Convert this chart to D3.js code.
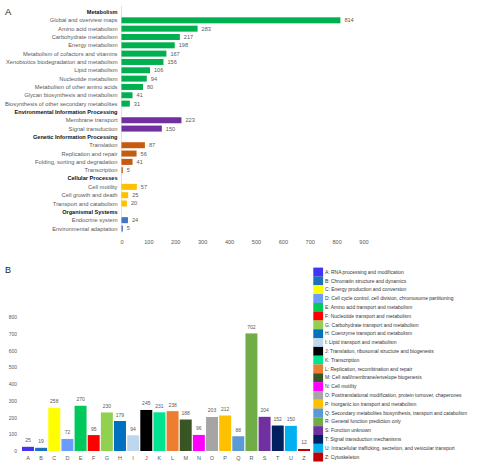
<!DOCTYPE html>
<html>
<head>
<meta charset="utf-8">
<script src="https://cdn.jsdelivr.net/npm/d3@7"></script>
<style>
  html, body { margin: 0; padding: 0; background: #fff; }
  svg { display: block; font-family: "Liberation Sans", Arial, sans-serif; }
</style>
</head>
<body>
<svg id="chart" width="492" height="468"></svg>
<script>
// ---------- Panel A data (KEGG) ----------
const keggGroups = ["Metabolism", "Environmental Information Processing", "Genetic Information Processing", "Cellular Processes", "Organismal Systems"];
const keggGroupColors = ["#00b050", "#7030a0", "#c55a11", "#ffc000", "#4472c4"];
const keggPathways = [
  "Global and overview maps", "Amino acid metabolism", "Carbohydrate metabolism", "Energy metabolism",
  "Metabolism of cofactors and vitamins", "Xenobiotics biodegradation and metabolism", "Lipid metabolism",
  "Nucleotide metabolism", "Metabolism of other amino acids", "Glycan biosynthesis and metabolism",
  "Biosynthesis of other secondary metabolites",
  "Membrane transport", "Signal transduction",
  "Translation", "Replication and repair", "Folding, sorting and degradation", "Transcription",
  "Cell motility", "Cell growth and death", "Transport and catabolism",
  "Endocrine system", "Environmental adaptation"
];
const keggValues = [814, 283, 217, 198, 167, 156, 106, 94, 80, 41, 31, 223, 150, 87, 56, 41, 5, 57, 25, 20, 24, 5];
const keggPathwayGroup = [0,0,0,0,0,0,0,0,0,0,0, 1,1, 2,2,2,2, 3,3,3, 4,4];
const keggTicks = [0, 100, 200, 300, 400, 500, 600, 700, 800, 900];

// ---------- Panel B data (COG) ----------
const cogLetters = ["A","B","C","D","E","F","G","H","I","J","K","L","M","N","O","P","Q","R","S","T","U","Z"];
const cogValues = [25, 19, 258, 72, 270, 95, 230, 179, 94, 245, 231, 238, 188, 96, 203, 212, 88, 702, 204, 152, 150, 12];
const cogColors = ["#4433f5","#1f6fc0","#ffff00","#6b9bff","#00c85a","#ff0000","#92d050","#0070c0","#bdd7ee","#000000",
                   "#00e391","#ed7d31","#375623","#ff00ff","#a5a5a5","#ffc000","#5b9bd5","#70ad47","#7030a0","#002060","#00b0f0","#c00000"];
const cogDescriptions = [
  "A: RNA processing and modification",
  "B: Chromatin structure and dynamics",
  "C: Energy production and conversion",
  "D: Cell cycle control, cell division, chromosome partitioning",
  "E: Amino acid transport and metabolism",
  "F: Nucleotide transport and metabolism",
  "G: Carbohydrate transport and metabolism",
  "H: Coenzyme transport and metabolism",
  "I: Lipid transport and metabolism",
  "J: Translation, ribosomal structure and biogenesis",
  "K: Transcription",
  "L: Replication, recombination and repair",
  "M: Cell wall/membrane/envelope biogenesis",
  "N: Cell motility",
  "O: Posttranslational modification, protein turnover, chaperones",
  "P: Inorganic ion transport and metabolism",
  "Q: Secondary metabolites biosynthesis, transport and catabolism",
  "R: General function prediction only",
  "S: Function unknown",
  "T: Signal transduction mechanisms",
  "U: Intracellular trafficking, secretion, and vesicular transport",
  "Z: Cytoskeleton"
];
const cogTicks = [0, 100, 200, 300, 400, 500, 600, 700, 800];

const svg = d3.select("#chart");
const gray = "#595959";

// ================= Panel A =================
const rows = [];
keggGroups.forEach((g, gi) => {
  rows.push({ key: "h" + gi, label: g, header: true, group: gi });
  keggPathways.forEach((p, i) => {
    if (keggPathwayGroup[i] === gi) rows.push({ key: "p" + i, label: p, header: false, group: gi, value: keggValues[i] });
  });
});

const yA = d3.scalePoint().domain(rows.map(r => r.key)).range([12, 228.5]);
const xA = d3.scaleLinear().domain([0, 900]).range([121.5, 363.5]);
const barH = 6;

svg.append("text").attr("x", 5).attr("y", 14.5).attr("font-size", 9.5).attr("fill", "#222").text("A");

const gA = svg.append("g");
gA.append("line").attr("x1", xA(0)).attr("x2", xA(0)).attr("y1", 6).attr("y2", 233)
  .attr("stroke", "#d9d9d9").attr("stroke-width", 0.8);

gA.selectAll("text.lab").data(rows).join("text")
  .attr("class", "lab")
  .attr("x", 117.5)
  .attr("y", d => yA(d.key))
  .attr("dy", "0.35em")
  .attr("text-anchor", "end")
  .attr("font-size", d => d.header ? 5.6 : 5.75)
  .attr("font-weight", d => d.header ? "bold" : "normal")
  .attr("fill", d => d.header ? "#111" : gray)
  .text(d => d.label);

const dataRows = rows.filter(r => !r.header);
gA.selectAll("rect.bar").data(dataRows).join("rect")
  .attr("class", "bar")
  .attr("x", xA(0))
  .attr("y", d => yA(d.key) - barH / 2)
  .attr("width", d => xA(d.value) - xA(0))
  .attr("height", barH)
  .attr("fill", d => keggGroupColors[d.group]);

gA.selectAll("text.val").data(dataRows).join("text")
  .attr("class", "val")
  .attr("x", d => xA(d.value) + 4)
  .attr("y", d => yA(d.key))
  .attr("dy", "0.35em")
  .attr("font-size", 5.6)
  .attr("fill", gray)
  .text(d => d.value);

const axA = gA.append("g").attr("transform", "translate(0,240)")
  .call(d3.axisBottom(xA).tickValues(keggTicks).tickSize(0).tickPadding(0));
axA.select(".domain").remove();
axA.selectAll("text").attr("font-size", 5.6).attr("fill", gray).attr("font-family", "Liberation Sans, Arial, sans-serif");

// ================= Panel B =================
svg.append("text").attr("x", 5).attr("y", 273).attr("font-size", 9).attr("fill", "#222").text("B");

const xB = d3.scaleBand().domain(cogLetters).range([21.4, 310.6]).paddingInner(0.09).paddingOuter(0.045);
const yB = d3.scaleLinear().domain([0, 800]).range([451, 317]);
const gB = svg.append("g");

const axBy = gB.append("g").attr("transform", "translate(17,0)")
  .call(d3.axisLeft(yB).tickValues(cogTicks).tickSize(0).tickPadding(0));
axBy.select(".domain").remove();
axBy.selectAll("text").attr("font-size", 5).attr("fill", gray).attr("font-family", "Liberation Sans, Arial, sans-serif");

const cogData = cogLetters.map((l, i) => ({ letter: l, value: cogValues[i], color: cogColors[i] }));
gB.selectAll("rect.cbar").data(cogData).join("rect")
  .attr("class", "cbar")
  .attr("x", d => xB(d.letter))
  .attr("y", d => yB(d.value))
  .attr("width", xB.bandwidth())
  .attr("height", d => yB(0) - yB(d.value))
  .attr("fill", d => d.color);

gB.selectAll("text.cval").data(cogData).join("text")
  .attr("class", "cval")
  .attr("x", d => xB(d.letter) + xB.bandwidth() / 2)
  .attr("y", d => yB(d.value) - 4.5)
  .attr("text-anchor", "middle")
  .attr("font-size", 5)
  .attr("fill", gray)
  .text(d => d.value);

const axBx = gB.append("g").attr("transform", "translate(0,456)")
  .call(d3.axisBottom(xB).tickSize(0).tickPadding(0));
axBx.select(".domain").remove();
axBx.selectAll("text").attr("font-size", 5.5).attr("fill", gray).attr("font-family", "Liberation Sans, Arial, sans-serif");

// Legend
const legY = d3.scalePoint().domain(cogLetters).range([272, 457]);
const legStep = legY.step();
const leg = svg.append("g");
leg.selectAll("rect").data(cogData).join("rect")
  .attr("x", 313.3).attr("width", 9.8)
  .attr("y", d => legY(d.letter) - legStep / 2)
  .attr("height", legStep + 0.1)
  .attr("fill", d => d.color);
leg.selectAll("text").data(cogData).join("text")
  .attr("x", 325)
  .attr("y", d => legY(d.letter))
  .attr("dy", "0.35em")
  .attr("font-size", 4.95)
  .attr("fill", "#333")
  .text((d, i) => cogDescriptions[i]);
</script>
</body>
</html>
